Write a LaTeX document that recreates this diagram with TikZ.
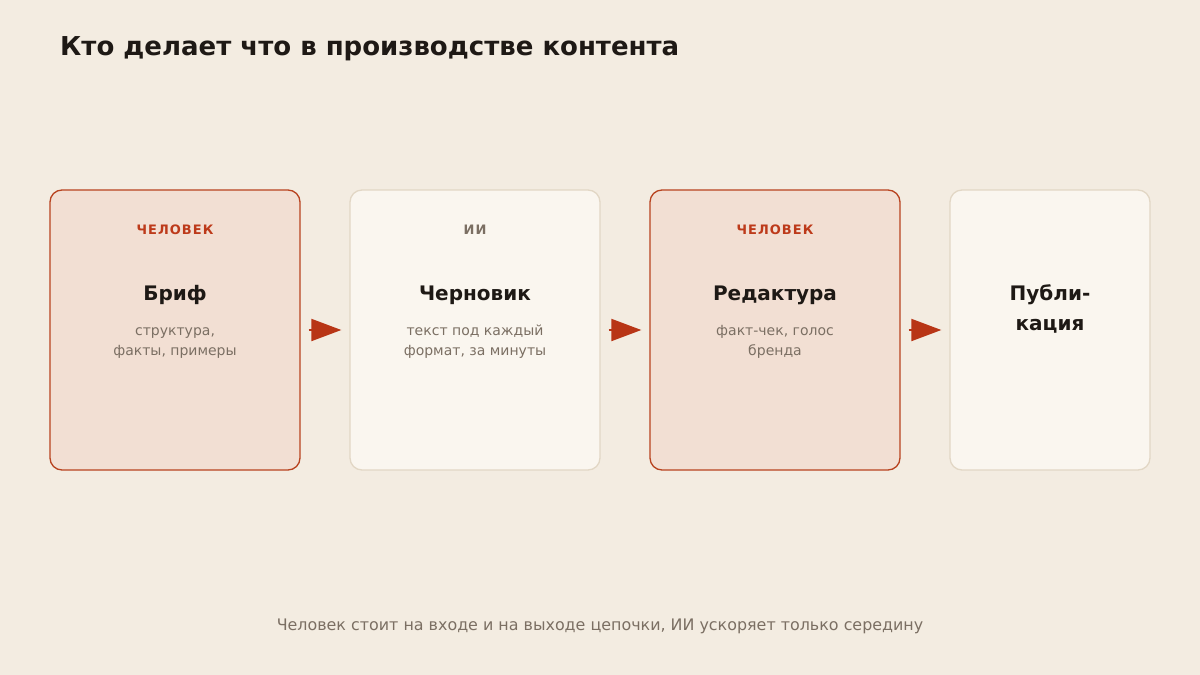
\documentclass[tikz,border=0pt]{standalone}
\usepackage{fontspec}
\setmainfont{DejaVu Sans}
\usepackage{tikz}
\usetikzlibrary{calc,arrows.meta}
\definecolor{paper}{HTML}{F3ECE1}
\definecolor{humanfill}{HTML}{F2DFD3}
\definecolor{humanline}{HTML}{B8431F}
\definecolor{humantag}{HTML}{BD3A1A}
\definecolor{aifill}{HTML}{FAF6EF}
\definecolor{ailine}{HTML}{E2D7C5}
\definecolor{ink}{HTML}{1E1915}
\definecolor{muted}{HTML}{7B6F63}
\definecolor{flow}{HTML}{B83516}
\def\fs#1#2{\fontsize{#1}{#2}\selectfont}
\tikzset{
	stage/.style={rounded corners=12pt, minimum width=250pt, minimum height=280pt, inner sep=0pt, line width=1.3pt},
	human/.style={stage, fill=humanfill, draw=humanline},
	machine/.style={stage, fill=aifill, draw=ailine},
	tag/.style={anchor=base, font=\bfseries\fs{13}{16}\addfontfeature{LetterSpace=8}},
	headline/.style={anchor=base, text=ink, font=\bfseries\fs{20}{30}, align=center},
	detail/.style={anchor=base, text=muted, font=\fs{14}{20}, align=center},
	flowarrow/.style={draw=flow, line width=2pt, shorten <=8pt, shorten >=8pt, -{Triangle[length=30pt,width=22pt]}}
}

\begin{document}
\begin{tikzpicture}[x=1pt, y=-1pt]
		%%%%% START %%%%%
		
		\fill[paper] (0, 0) rectangle (1200, 675);
		\useasboundingbox (0, 0) rectangle (1200, 675);
		
		\node[anchor=base west, inner sep=0pt, text=ink, font=\bfseries\fs{26}{30}] (title) at (60, 55) {Кто делает что в производстве контента};
		
		\node[human] (brief) at (175, 330) {};
		\node[machine] (draft) at (475, 330) {};
		\node[human] (edit) at (775, 330) {};
		\node[machine, minimum width=200pt] (publish) at (1050, 330) {};
		
		\node[tag, text=humantag] (briefTag) at ($(brief.north)+(0, 45.5)$) {ЧЕЛОВЕК};
		\node[headline] (briefHead) at ($(brief.north)+(0, 111.5)$) {Бриф};
		\node[detail] (briefText) at ($(brief.north)+(0, 166)$) {структура,\\факты, примеры};
		
		\node[tag, text=muted] (draftTag) at ($(draft.north)+(0, 45.5)$) {ИИ};
		\node[headline] (draftHead) at ($(draft.north)+(0, 111.5)$) {Черновик};
		\node[detail] (draftText) at ($(draft.north)+(0, 166)$) {текст под каждый\\формат, за минуты};
		
		\node[tag, text=humantag] (editTag) at ($(edit.north)+(0, 45.5)$) {ЧЕЛОВЕК};
		\node[headline] (editHead) at ($(edit.north)+(0, 111.5)$) {Редактура};
		\node[detail] (editText) at ($(edit.north)+(0, 166)$) {факт-чек, голос\\бренда};
		
		\node[headline] (publishHead) at ($(publish.north)+(0, 141.5)$) {Публи-\\кация};
		
		\draw[flowarrow] (brief.east) -- (draft.west);
		\draw[flowarrow] (draft.east) -- (edit.west);
		\draw[flowarrow] (edit.east) -- (publish.west);
		
		\node[anchor=base, text=muted, font=\fs{15.9}{18}] (footer) at (600, 630) {Человек стоит на входе и на выходе цепочки, ИИ ускоряет только середину};
		
		%%%%% END %%%%%
	\end{tikzpicture}
\end{document}
